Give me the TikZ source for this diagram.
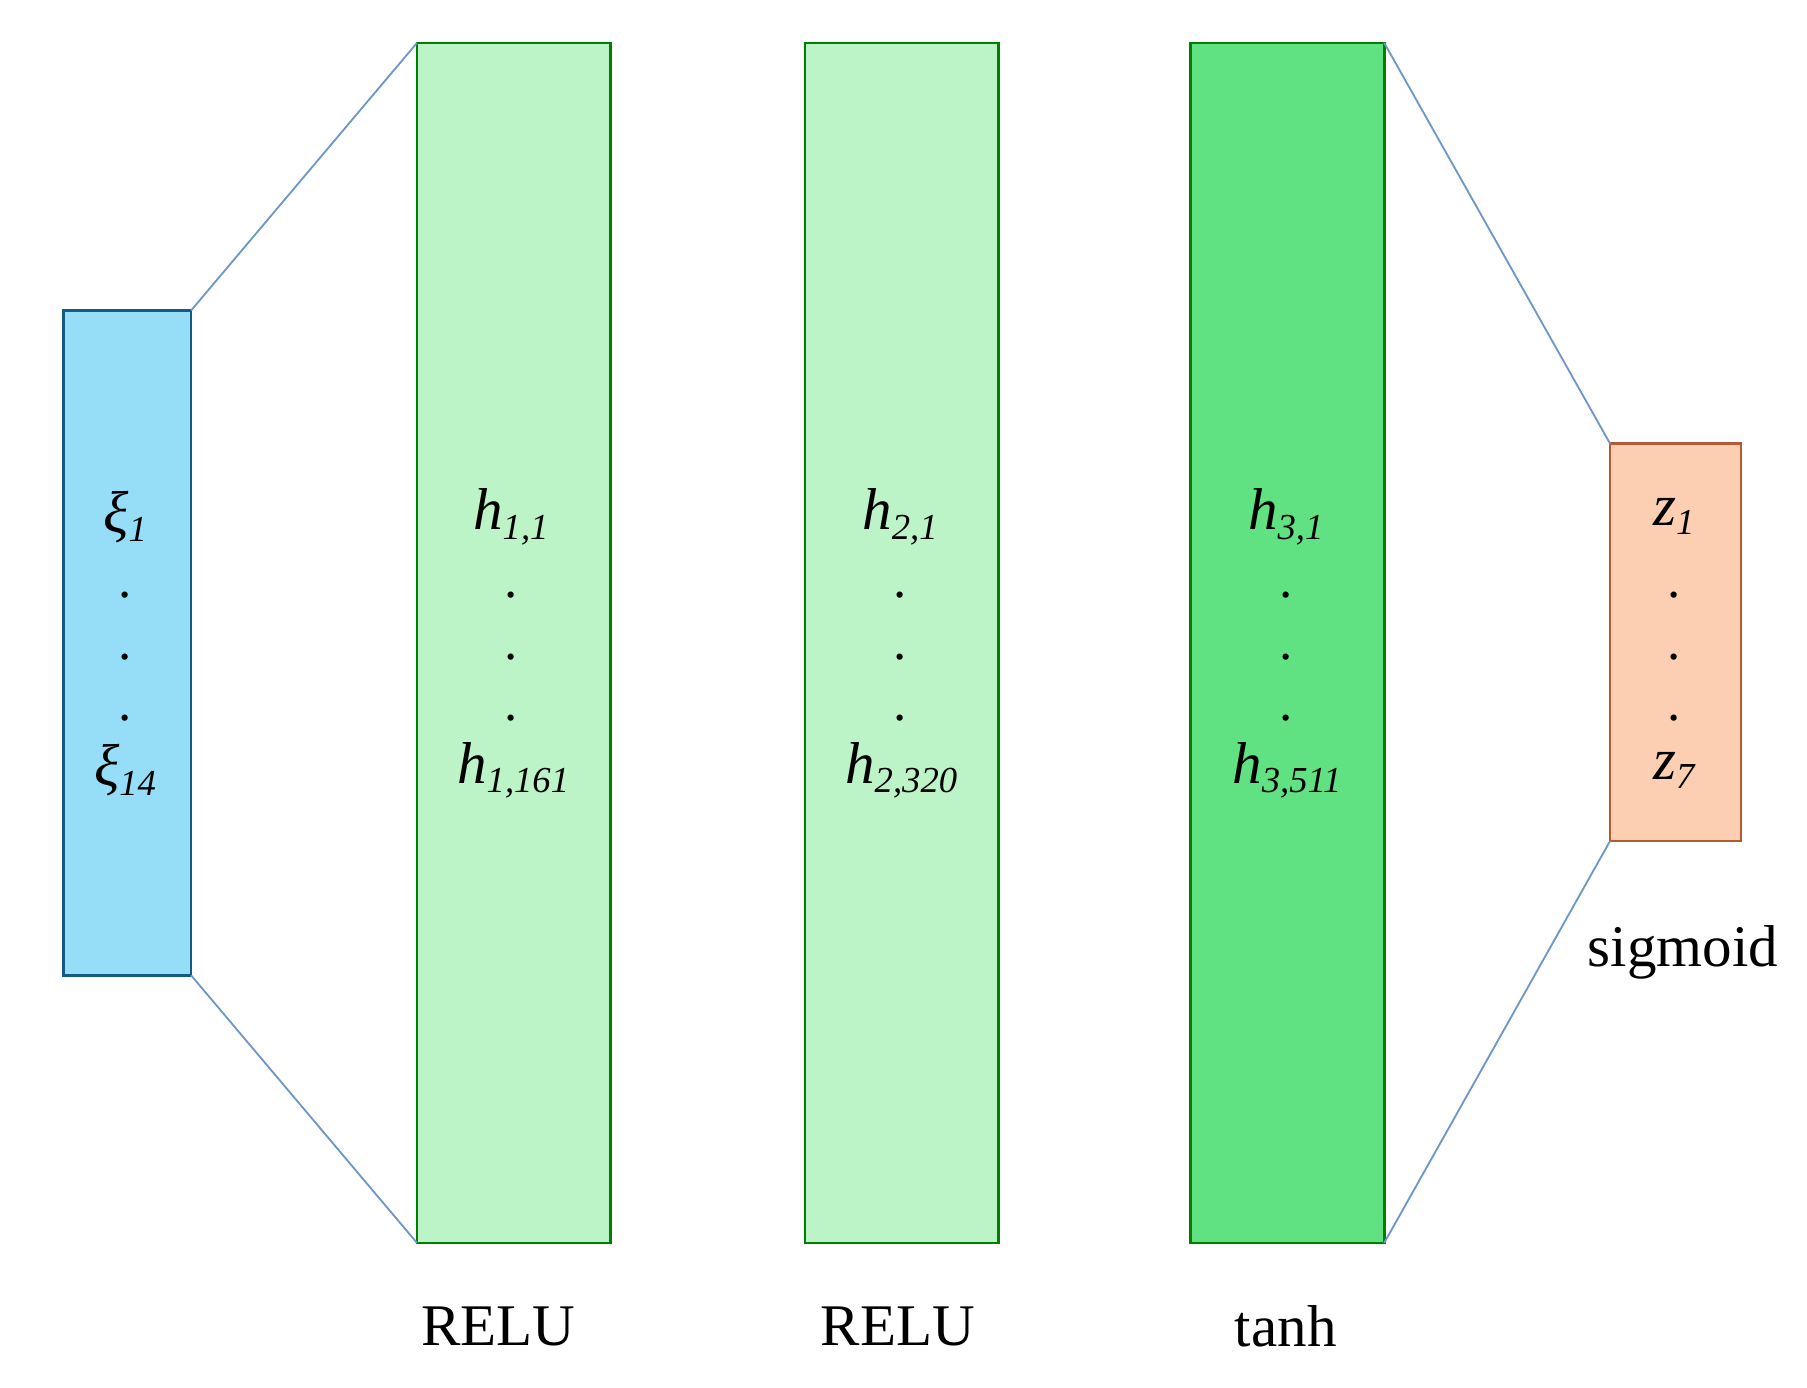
\documentclass[tikz,border=0pt]{standalone}
\usepackage{fontspec}
\setmainfont{Liberation Serif}
\newcommand{\vsub}[2]{{\itshape #1\raisebox{-0.35ex}{\fontsize{18}{20}\selectfont #2}}}
\begin{document}
\begin{tikzpicture}[x=0.02cm,y=-0.02cm,
  lay/.style={draw=green!50!black,line width=1.3pt},
  conn/.style={draw={rgb,255:red,110;green,150;blue,200},line width=0.9pt},
  lbl/.style={font=\fontsize{29}{34}\selectfont},
  ent/.style={font=\fontsize{29}{34}\selectfont, inner sep=0pt},
  dt/.style={font=\fontsize{26}{30}\selectfont, inner sep=0pt}]
\useasboundingbox (0,0) rectangle (1560,1198);
\draw[fill={rgb,255:red,150;green,222;blue,248},draw={rgb,255:red,20;green,90;blue,130},line width=1.3pt] (55,268) rectangle (165,842);
\coordinate (bTR) at (165,268); \coordinate (bBR) at (165,842);
\draw[lay,fill={rgb,255:red,188;green,244;blue,200}] (360,37) rectangle (527,1073);
\coordinate (g1TL) at (360,37); \coordinate (g1BL) at (360,1073);
\draw[lay,fill={rgb,255:red,188;green,244;blue,200}] (695,37) rectangle (862,1073);
\draw[lay,fill={rgb,255:red,96;green,226;blue,130}] (1028,37) rectangle (1195,1073);
\coordinate (g3TR) at (1195,37); \coordinate (g3BR) at (1195,1073);
\draw[fill={rgb,255:red,252;green,206;blue,178},draw={rgb,255:red,180;green,90;blue,50},line width=1.3pt] (1390,383) rectangle (1503,726);
\coordinate (oTL) at (1390,383); \coordinate (oBL) at (1390,726);
\draw[conn] (bTR) -- (g1TL);
\draw[conn] (bBR) -- (g1BL);
\draw[conn] (g3TR) -- (oTL);
\draw[conn] (g3BR) -- (oBL);
\foreach \x/\a/\b/\n in {108/ξ/{1}/x, 441/h/{1,1}/h1, 777/h/{2,1}/h2, 1110/h/{3,1}/h3, 1445/z/{1}/z}{
  \node[ent] (\n top) at (\x,446) {\vsub{\a}{\b}};
  \node[dt] (\n d1) at (\x,514) {.};
  \node[dt] (\n d2) at (\x,567) {.};
  \node[dt] (\n d3) at (\x,620) {.};
}
\node[ent] (xbot) at (108,665) {\vsub{ξ}{14}};
\node[ent] (h1bot) at (443,665) {\vsub{h}{1,161}};
\node[ent] (h2bot) at (778,665) {\vsub{h}{2,320}};
\node[ent] (h3bot) at (1111,665) {\vsub{h}{3,511}};
\node[ent] (zbot) at (1445,665) {\vsub{z}{7}};
\node[lbl] (r1) at (430,1145) {RELU};
\node[lbl] (r2) at (775,1145) {RELU};
\node[lbl] (t) at (1110,1145) {tanh};
\node[lbl] (s) at (1453,822) {sigmoid};
\end{tikzpicture}
\end{document}
